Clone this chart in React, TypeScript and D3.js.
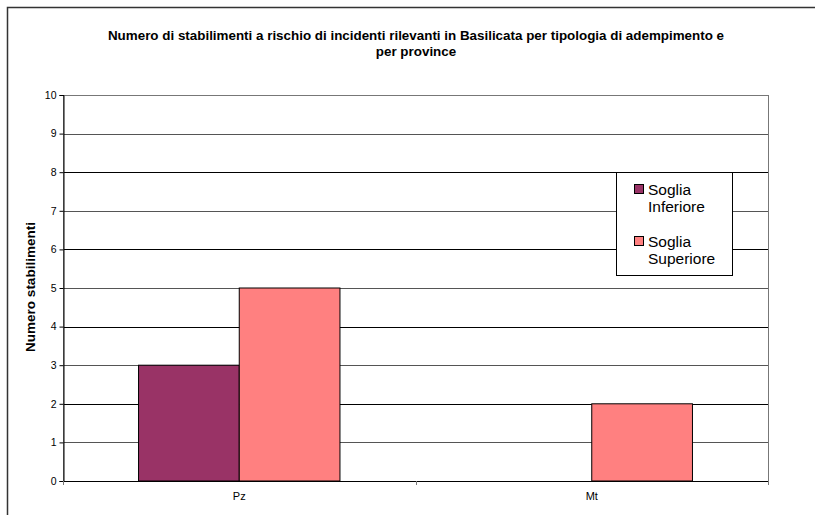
import { axisLeft, scaleBand, scaleLinear, select } from "d3";
import { useEffect, useRef } from "react";

const categories = ["Pz", "Mt"];
const series = ["Soglia Inferiore", "Soglia Superiore"];
const inferiore = [3, 0];
const superiore = [5, 2];
const colors = ["#993366", "#FF8080"];
const yTicks = [0, 1, 2, 3, 4, 5, 6, 7, 8, 9, 10];
const titleLines = [
    "Numero di stabilimenti a rischio di incidenti rilevanti in Basilicata per tipologia di adempimento e",
    "per province",
];

const W = 815;
const H = 515;
const left = 63;
const right = 768;
const top = 95;
const bottom = 481;

function App() {
    const svgRef = useRef(null);

    useEffect(() => {
        const svg: any = select(svgRef.current);
        svg.selectAll("*").remove();

        // cornice esterna (tagliata a destra e in basso)
        svg.append("rect")
            .attr("x", 7.5)
            .attr("y", 7.5)
            .attr("width", 830)
            .attr("height", 530)
            .attr("fill", "#fff")
            .attr("stroke", "#333")
            .attr("stroke-width", 1.5);

        const font = "'Liberation Sans', Arial, sans-serif";

        const title = svg.append("text")
            .attr("text-anchor", "middle")
            .attr("font-family", font)
            .attr("font-weight", "bold")
            .attr("font-size", 13.4)
            .attr("fill", "#000");
        titleLines.forEach((t, i) => {
            title.append("tspan").attr("x", 416).attr("y", 40 + i * 16).text(t);
        });

        const x0 = scaleBand().domain(categories).range([left, right]);
        // gruppo di due barre, gap 150% della larghezza barra
        const barW = x0.bandwidth() / (2 + 1.5);
        const y = scaleLinear().domain([0, 10]).range([bottom, top]);

        // griglia
        svg.append("g")
            .selectAll("line")
            .data(yTicks)
            .enter()
            .append("line")
            .attr("x1", left)
            .attr("x2", right)
            .attr("y1", (d: number) => Math.round(y(d)) + 0.5)
            .attr("y2", (d: number) => Math.round(y(d)) + 0.5)
            .attr("stroke", (d: number) => (d % 2 === 0 ? "#000" : "#555"))
            .attr("stroke-width", 1);

        // area del grafico
        svg.append("rect")
            .attr("x", left + 0.5)
            .attr("y", top + 0.5)
            .attr("width", right - left)
            .attr("height", bottom - top)
            .attr("fill", "none")
            .attr("stroke", "#777")
            .attr("stroke-width", 1);

        const values = [inferiore, superiore];
        categories.forEach((c, ci) => {
            const gx = (x0(c) as number) + x0.bandwidth() / 2 - barW;
            series.forEach((s, si) => {
                const v = values[si][ci];
                if (v <= 0) return;
                svg.append("rect")
                    .attr("x", gx + si * barW)
                    .attr("y", y(v))
                    .attr("width", barW)
                    .attr("height", y(0) - y(v))
                    .attr("fill", colors[si])
                    .attr("stroke", "#000")
                    .attr("stroke-width", 1);
            });
        });

        // asse y
        const yAxis = axisLeft(y).tickValues(yTicks).tickSize(4).tickFormat((d: any) => String(d));
        const gy = svg.append("g")
            .attr("transform", `translate(${left + 0.5},0)`)
            .call(yAxis);
        gy.select(".domain").attr("stroke", "#000");
        gy.selectAll(".tick line").attr("stroke", "#000");
        gy.selectAll(".tick text")
            .attr("font-family", font)
            .attr("font-size", 10.5)
            .attr("fill", "#000")
            .attr("x", -7);

        // asse x
        svg.append("line")
            .attr("x1", left)
            .attr("x2", right + 0.5)
            .attr("y1", bottom + 0.5)
            .attr("y2", bottom + 0.5)
            .attr("stroke", "#000");
        const bounds = [left, left + x0.bandwidth(), right];
        svg.append("g")
            .selectAll("line")
            .data(bounds)
            .enter()
            .append("line")
            .attr("x1", (d: number) => Math.round(d) + 0.5)
            .attr("x2", (d: number) => Math.round(d) + 0.5)
            .attr("y1", bottom)
            .attr("y2", bottom + 4)
            .attr("stroke", "#777");
        svg.append("g")
            .selectAll("text")
            .data(categories)
            .enter()
            .append("text")
            .attr("x", (d: string) => (x0(d) as number) + x0.bandwidth() / 2)
            .attr("y", 500)
            .attr("text-anchor", "middle")
            .attr("font-family", font)
            .attr("font-size", 11)
            .attr("fill", "#000")
            .text((d: string) => d);

        // titolo asse y
        svg.append("text")
            .attr("transform", `translate(35,287) rotate(-90)`)
            .attr("text-anchor", "middle")
            .attr("font-family", font)
            .attr("font-weight", "bold")
            .attr("font-size", 13.5)
            .attr("fill", "#000")
            .text("Numero stabilimenti");

        // legenda
        const lg = svg.append("g");
        lg.append("rect")
            .attr("x", 616.5)
            .attr("y", 172.5)
            .attr("width", 116)
            .attr("height", 103)
            .attr("fill", "#fff")
            .attr("stroke", "#000");
        const labels = [
            ["Soglia", "Inferiore"],
            ["Soglia", "Superiore"],
        ];
        labels.forEach((lines, i) => {
            const by = 195 + i * 52;
            lg.append("rect")
                .attr("x", 634.5)
                .attr("y", by - 10.5)
                .attr("width", 9)
                .attr("height", 9)
                .attr("fill", colors[i])
                .attr("stroke", "#000");
            const t = lg.append("text")
                .attr("font-family", font)
                .attr("font-size", 15.5)
                .attr("fill", "#000");
            lines.forEach((l, j) => {
                t.append("tspan").attr("x", 648).attr("y", by + j * 17).text(l);
            });
        });
    }, []);

    return (
        <svg
            ref={svgRef}
            width={W}
            height={H}
            style={{ position: "absolute", left: 0, top: 0, background: "#fff" }}
        />
    );
}

export default App;
